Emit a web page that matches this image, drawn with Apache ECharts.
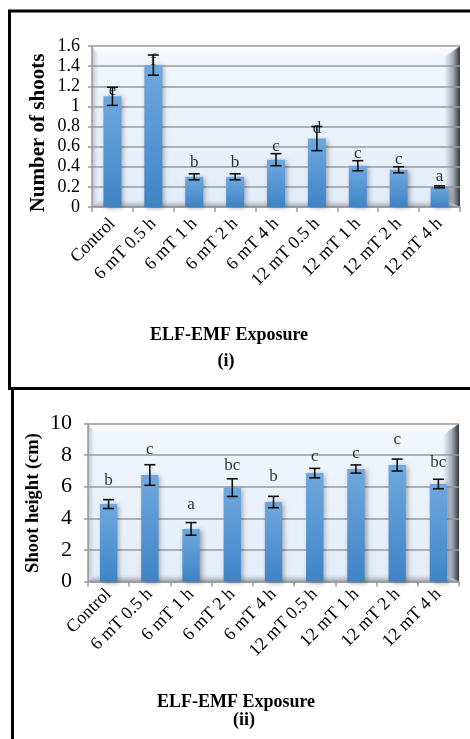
<!DOCTYPE html>
<html><head><meta charset="utf-8">
<script src="https://cdn.jsdelivr.net/npm/echarts@6/dist/echarts.min.js"></script>
<style>html,body{margin:0;padding:0;background:#fff}#c{width:470px;height:739px}</style>
</head><body><div id="c"></div>
<script>
const categories = ['Control','6 mT 0.5 h','6 mT 1 h','6 mT 2 h','6 mT 4 h','12 mT 0.5 h','12 mT 1 h','12 mT 2 h','12 mT 4 h'];
const shootsMean = [1.10,1.41,0.30,0.30,0.47,0.68,0.41,0.37,0.20];
const shootsErr = [0.09,0.10,0.03,0.03,0.06,0.12,0.05,0.03,0.01];
const shootsLetters = ['e','f','b','b','c','d','c','c','a'];
const shootsLetterPos = [1.16,1.46,0.44,0.44,0.60,0.78,0.53,0.47,0.30];
const heightMean = [4.90,6.74,3.33,5.94,5.03,6.86,7.12,7.37,6.17];
const heightErr = [0.28,0.65,0.40,0.56,0.36,0.30,0.26,0.38,0.30];
const heightLetters = ['b','c','a','bc','b','c','c','c','bc'];
const heightLetterPos = [6.42,8.36,4.88,7.37,6.67,7.94,8.10,8.99,7.52];
const shootsAxis = {min:0, max:1.6, interval:0.2};
const heightAxis = {min:0, max:10, interval:2};
const titles = {y1:'Number of shoots', y2:'Shoot height (cm)', x:'ELF-EMF Exposure', p1:'(i)', p2:'(ii)'};

const SERIF = "'Liberation Serif','Times New Roman',serif";
const G1 = {left:92, top:46, width:368, height:161};
const G2 = {left:88, top:423.5, width:371, height:158};

function bevel(G){
  const L=G.left,T=G.top,W=G.width,H=G.height,R=L+W,B=T+H;
  return [
    {type:'rect', z:-10, shape:{x:L,y:T,width:W,height:H},
     style:{fill:new echarts.graphic.LinearGradient(0,0,0,1,[{offset:0,color:'#f2f7fd'},{offset:1,color:'#e2ecf9'}])}},
    {type:'polygon', z:-9, shape:{points:[[L,T],[R,T],[R-15,T+11],[L+8,T+11]]},
     style:{fill:new echarts.graphic.LinearGradient(0,0,0,1,[{offset:0,color:'#ffffff'},{offset:1,color:'#eef5fd'}])}},
    {type:'polygon', z:-9, shape:{points:[[L,B],[R,B],[R-15,B-7],[L+6,B-7]]},
     style:{fill:new echarts.graphic.LinearGradient(0,0,0,1,[{offset:0,color:'rgba(190,195,205,0)'},{offset:1,color:'rgba(150,155,165,0.9)'}])}},
    {type:'polygon', z:-8, shape:{points:[[R,T],[R,B],[R-15,B-7],[R-15,T+11]]},
     style:{fill:new echarts.graphic.LinearGradient(0,0,1,0,[{offset:0,color:'#e4edf8'},{offset:0.5,color:'#a9b2bc'},{offset:1,color:'#33373b'}])}},
    {type:'polygon', z:-8, shape:{points:[[L,T],[L,B],[L+6,B-7],[L+8,T+11]]},
     style:{fill:new echarts.graphic.LinearGradient(0,0,1,0,[{offset:0,color:'#b8bec6'},{offset:1,color:'rgba(225,235,248,0)'}])}}
  ];
}

function errSeries(xi, yi, mean, err){
  return {
    type:'custom', xAxisIndex:xi, yAxisIndex:yi, z:4,
    data: mean.map((m,i)=>[i,m,err[i]]),
    renderItem:function(params, api){
      const i=api.value(0), v=api.value(1), e=api.value(2);
      const hi=api.coord([i,v+e]), lo=api.coord([i,v-e]);
      const w=5.5, st={stroke:'#111',lineWidth:1.6};
      return {type:'group', children:[
        {type:'line', shape:{x1:hi[0],y1:hi[1],x2:lo[0],y2:lo[1]}, style:st},
        {type:'line', shape:{x1:hi[0]-w,y1:hi[1],x2:hi[0]+w,y2:hi[1]}, style:st},
        {type:'line', shape:{x1:lo[0]-w,y1:lo[1],x2:lo[0]+w,y2:lo[1]}, style:st}
      ]};
    }
  };
}
function letterSeries(xi, yi, pos, letters){
  return {
    type:'scatter', xAxisIndex:xi, yAxisIndex:yi, z:5, symbolSize:1,
    itemStyle:{color:'rgba(0,0,0,0)'},
    data: pos.map((p,i)=>[i,p]),
    label:{show:true, position:'inside', formatter:(p)=>letters[p.dataIndex],
      color:'#000', fontFamily:SERIF, fontSize:17}
  };
}
const barColor = new echarts.graphic.LinearGradient(0,0,0,1,[{offset:0,color:'#6fa8de'},{offset:1,color:'#3f84c6'}]);
function barSeries(xi, yi, mean, w){
  return {type:'bar', xAxisIndex:xi, yAxisIndex:yi, barWidth:w, data:mean, z:3,
    itemStyle:{color:barColor, shadowColor:'rgba(0,0,0,0.35)', shadowBlur:5, shadowOffsetX:2, shadowOffsetY:1}};
}
function xAxis(gi, margin){
  return {type:'category', gridIndex:gi, data:categories,
    axisLine:{show:true, lineStyle:{color:'#999', width:1.5}},
    axisTick:{show:true, length:5, lineStyle:{color:'#999', width:1.5}},
    axisLabel:{interval:0, rotate:45, margin:margin, color:'#000', fontFamily:SERIF, fontSize:18}};
}
function yAxis(gi, a, fs, margin){
  return {type:'value', gridIndex:gi, min:a.min, max:a.max, interval:a.interval,
    axisLine:{show:true, lineStyle:{color:'#999', width:1.5}},
    axisTick:{show:true, length:4, lineStyle:{color:'#999', width:1.5}},
    splitLine:{show:true, lineStyle:{color:'#9a9a9a', width:1.6}},
    axisLabel:{margin:margin, color:'#000', fontFamily:SERIF, fontSize:fs}};
}
function txt(x,y,t,fs,rot){
  return {type:'text', x:x, y:y, rotation:rot||0, z:20,
    style:{text:t, x:0, y:0, align:'center', verticalAlign:'middle', fill:'#000',
      font:'bold '+fs+'px '+SERIF}};
}
function line(x1,y1,x2,y2){
  return {type:'line', z:30, shape:{x1,y1,x2,y2}, style:{stroke:'#000', lineWidth:3}};
}

const chart = echarts.init(document.getElementById('c'), null, {renderer:'canvas'});
chart.setOption({
  animation:false,
  backgroundColor:'#fff',
  grid:[G1,G2].map(g=>({left:g.left, top:g.top, width:g.width, height:g.height, containLabel:false})),
  xAxis:[xAxis(0,14), xAxis(1,10)],
  yAxis:[yAxis(0,shootsAxis,18,12), yAxis(1,heightAxis,22,16)],
  series:[
    barSeries(0,0,shootsMean,'44%'),
    errSeries(0,0,shootsMean,shootsErr),
    letterSeries(0,0,shootsLetterPos,shootsLetters),
    barSeries(1,1,heightMean,'42%'),
    errSeries(1,1,heightMean,heightErr),
    letterSeries(1,1,heightLetterPos,heightLetters)
  ],
  graphic:{elements:[].concat(
    bevel(G1), bevel(G2),
    [
      txt(39,133,titles.y1,21,Math.PI/2),
      txt(33,503,titles.y2,18.5,Math.PI/2),
      txt(229,335,titles.x,18),
      txt(226,361,titles.p1,18),
      txt(236,702,titles.x,18),
      txt(244,720,titles.p2,18),
      line(8,11,470,11),
      line(9.5,11,9.5,389),
      line(8,388.5,470,388.5),
      line(12.5,387,12.5,739)
    ]
  )}
});
</script></body></html>
